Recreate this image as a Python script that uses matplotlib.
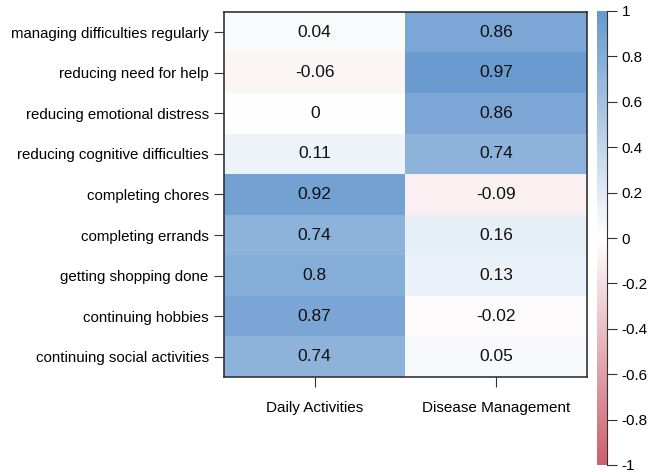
import matplotlib
matplotlib.use("Agg")
import matplotlib.pyplot as plt
import numpy as np
from matplotlib.colors import LinearSegmentedColormap

rows = [
    "managing difficulties regularly",
    "reducing need for help",
    "reducing emotional distress",
    "reducing cognitive difficulties",
    "completing chores",
    "completing errands",
    "getting shopping done",
    "continuing hobbies",
    "continuing social activities",
]
cols = ["Daily Activities", "Disease Management"]
daily = [0.04, -0.06, 0, 0.11, 0.92, 0.74, 0.8, 0.87, 0.74]
disease = [0.86, 0.97, 0.86, 0.74, -0.09, 0.16, 0.13, -0.02, 0.05]

values = np.array([daily, disease]).T

cmap = LinearSegmentedColormap.from_list(
    "rb", ["#cc5f6f", "#ffffff", "#6799cf"])

fig = plt.figure(figsize=(6.55, 4.72), dpi=100)
ax = fig.add_axes([224 / 655, 1 - 377 / 472, 363 / 655, 365 / 472])
ax.imshow(values, cmap=cmap, vmin=-1, vmax=1, aspect="auto")

for i in range(values.shape[0]):
    for j in range(values.shape[1]):
        v = values[i, j]
        txt = "0" if v == 0 else f"{v:g}"
        ax.text(j, i, txt, ha="center", va="center", fontsize=12.5,
                family="Liberation Sans", color="#111111")

ax.set_xticks(range(len(cols)))
ax.set_xticklabels(cols, family="Liberation Sans", fontsize=11)
ax.set_yticks(range(len(rows)))
ax.set_yticklabels(rows, family="Liberation Sans", fontsize=10.8)
ax.tick_params(axis="x", length=7, pad=10, color="#333333")
ax.tick_params(axis="y", length=7, pad=4, color="#333333")
for s in ax.spines.values():
    s.set_linewidth(1.2)
    s.set_color("#333333")

cax = fig.add_axes([597 / 655, 1 - 465 / 472, 10 / 655, 454 / 472])
grad = np.linspace(-1, 1, 256).reshape(-1, 1)
cax.imshow(grad, cmap=cmap, vmin=-1, vmax=1, aspect="auto", origin="lower",
           extent=[0, 1, -1, 1])
for s in ["top", "bottom", "left"]:
    cax.spines[s].set_visible(False)
cax.spines["right"].set_color("#333333")
cax.set_xticks([])
cax.yaxis.tick_right()
cticks = np.round(np.arange(-1, 1.01, 0.2), 1) + 0.0
cticks[np.abs(cticks) < 1e-9] = 0.0
cax.set_yticks(cticks)
cax.set_yticklabels(["0" if t == 0 else f"{t:g}" for t in cticks],
                    family="Liberation Sans", fontsize=11)
cax.tick_params(axis="y", length=7, color="#333333")
cax.set_ylim(-1, 1)

fig.savefig("out.png", dpi=100)
